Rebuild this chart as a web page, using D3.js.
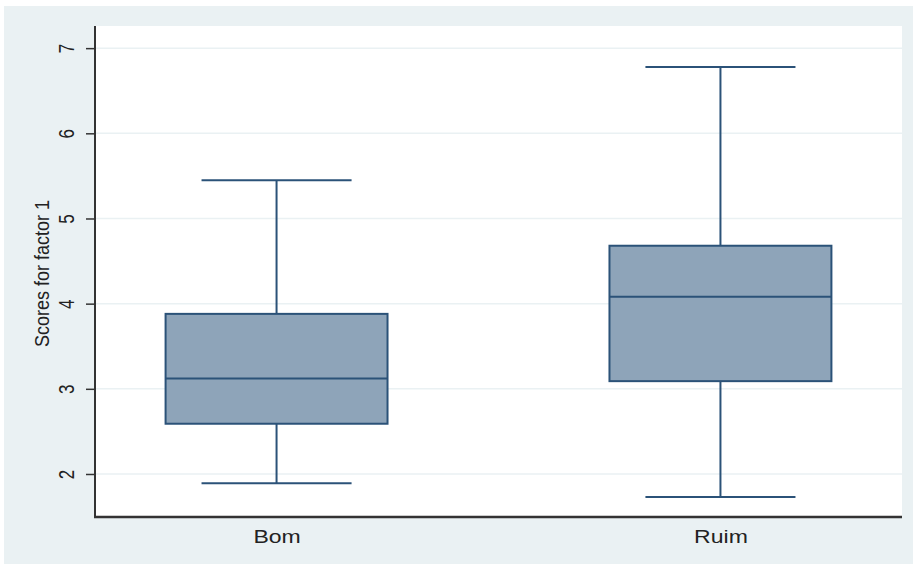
<!DOCTYPE html>
<html>
<head>
<meta charset="utf-8">
<script src="https://cdn.jsdelivr.net/npm/d3@7/dist/d3.min.js"></script>
<style>
  html, body { margin: 0; padding: 0; background: #ffffff; }
  svg { display: block; font-family: "Liberation Sans", Arial, sans-serif; }
</style>
</head>
<body>
<svg id="chart" width="913" height="564"></svg>
<script>
// Box plot summary per group
const groups     = ["Bom", "Ruim"];
const whiskerLow = [1.89, 1.73];
const q1         = [2.59, 3.09];
const medians    = [3.12, 4.08];
const q3         = [3.88, 4.68];
const whiskerHigh= [5.45, 6.78];
const yTicks     = [2, 3, 4, 5, 6, 7];
const yLabel     = "Scores for factor 1";

const svg = d3.select("#chart");
const W = 913, H = 564;

const plot = { left: 95, right: 902, top: 26, bottom: 517 };

// outer panel
svg.append("rect")
  .attr("x", 4).attr("y", 6).attr("width", W - 4).attr("height", H - 6)
  .attr("fill", "#eaf1f3");

// plot region
svg.append("rect")
  .attr("x", plot.left).attr("y", plot.top)
  .attr("width", plot.right - plot.left).attr("height", plot.bottom - plot.top)
  .attr("fill", "#ffffff");

const y = d3.scaleLinear().domain([1.495, 7.26]).range([plot.bottom, plot.top]);
const x = d3.scalePoint().domain(groups).range([plot.left, plot.right]).padding(0.409);
const step = x.step();
const boxW = step * 0.5;
const capW = step * 0.338;

// gridlines
svg.append("g").selectAll("line").data(yTicks).join("line")
  .attr("x1", plot.left).attr("x2", plot.right)
  .attr("y1", d => y(d)).attr("y2", d => y(d))
  .attr("stroke", "#eaf1f3").attr("stroke-width", 1.5);

const navy = "#2b5278";
const data = groups.map((g, i) => ({
  g, lo: whiskerLow[i], q1: q1[i], med: medians[i], q3: q3[i], hi: whiskerHigh[i]
}));

const boxes = svg.append("g").selectAll("g").data(data).join("g");

// whiskers
boxes.append("line")
  .attr("x1", d => x(d.g)).attr("x2", d => x(d.g))
  .attr("y1", d => y(d.q3)).attr("y2", d => y(d.hi))
  .attr("stroke", navy).attr("stroke-width", 2);
boxes.append("line")
  .attr("x1", d => x(d.g)).attr("x2", d => x(d.g))
  .attr("y1", d => y(d.q1)).attr("y2", d => y(d.lo))
  .attr("stroke", navy).attr("stroke-width", 2);
// caps
boxes.append("line")
  .attr("x1", d => x(d.g) - capW / 2).attr("x2", d => x(d.g) + capW / 2)
  .attr("y1", d => y(d.hi)).attr("y2", d => y(d.hi))
  .attr("stroke", navy).attr("stroke-width", 2);
boxes.append("line")
  .attr("x1", d => x(d.g) - capW / 2).attr("x2", d => x(d.g) + capW / 2)
  .attr("y1", d => y(d.lo)).attr("y2", d => y(d.lo))
  .attr("stroke", navy).attr("stroke-width", 2);
// box
boxes.append("rect")
  .attr("x", d => x(d.g) - boxW / 2).attr("width", boxW)
  .attr("y", d => y(d.q3)).attr("height", d => y(d.q1) - y(d.q3))
  .attr("fill", "#8ea4b9").attr("stroke", navy).attr("stroke-width", 2);
// median
boxes.append("line")
  .attr("x1", d => x(d.g) - boxW / 2).attr("x2", d => x(d.g) + boxW / 2)
  .attr("y1", d => y(d.med)).attr("y2", d => y(d.med))
  .attr("stroke", navy).attr("stroke-width", 2);

// y axis
const yAxis = svg.append("g")
  .attr("transform", `translate(${plot.left},0)`)
  .call(d3.axisLeft(y).tickValues(yTicks).tickSize(9).tickPadding(0).tickFormat(d3.format("d")));
yAxis.select(".domain").attr("stroke", "#333333").attr("stroke-width", 2)
  .attr("d", `M0,${plot.top}V${plot.bottom}`);
yAxis.selectAll(".tick line").attr("stroke", "#333333").attr("stroke-width", 1.5);
yAxis.selectAll(".tick text")
  .attr("x", 0).attr("dy", null)
  .attr("transform", "translate(-29,0) rotate(-90) scale(1,1.3)")
  .attr("text-anchor", "middle").attr("dominant-baseline", "central")
  .attr("font-size", 17).attr("fill", "#222222");

// x axis
const xAxis = svg.append("g")
  .attr("transform", `translate(0,${plot.bottom})`)
  .call(d3.axisBottom(x).tickSize(0).tickPadding(0));
xAxis.select(".domain").attr("stroke", "#333333").attr("stroke-width", 2.5)
  .attr("d", `M${plot.left - 1},0H${plot.right}`);
xAxis.selectAll(".tick text")
  .attr("y", 0).attr("dy", null)
  .attr("transform", "translate(0,26) scale(1.28,1)")
  .attr("font-size", 18).attr("fill", "#222222");

// y axis title
svg.append("text")
  .attr("transform", `translate(42,${(plot.top + plot.bottom) / 2 + 2}) rotate(-90) scale(1,1.15)`)
  .attr("text-anchor", "middle").attr("dominant-baseline", "central")
  .attr("font-size", 18).attr("fill", "#222222")
  .text(yLabel);
</script>
</body>
</html>
